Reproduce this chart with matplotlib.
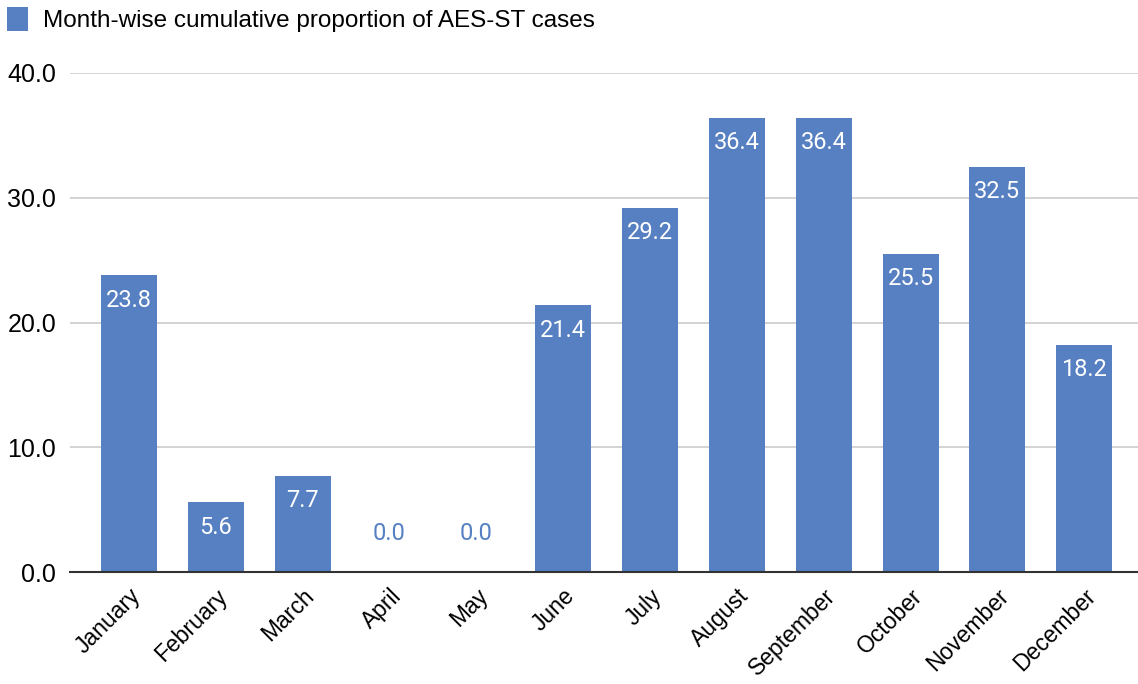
import matplotlib.pyplot as plt
import numpy as np

months = ["January", "February", "March", "April", "May", "June", "July",
          "August", "September", "October", "November", "December"]
values = [23.8, 5.6, 7.7, 0.0, 0.0, 21.4, 29.2, 36.4, 36.4, 25.5, 32.5, 18.2]
yticks = [0, 10, 20, 30, 40]
legend_label = "Month-wise cumulative proportion of AES-ST cases"

barcol = "#5680c2"
plt.rcParams["font.family"] = ["Liberation Sans", "DejaVu Sans"]

fig = plt.figure(figsize=(11.38, 6.84), dpi=100)
ax = fig.add_axes([0.0615, 0.1637, 0.9385, 0.7296])

x = np.arange(len(months))
bars = ax.bar(x, values, width=0.645, color=barcol, zorder=3)

# etiketler
for xi, v in zip(x, values):
    if v > 2:
        ax.annotate(f"{v:.1f}", (xi, v), xytext=(0, -18), textcoords="offset points",
                    ha="center", va="center", color="white", fontsize=17,
                    family=["Roboto", "DejaVu Sans"])
    else:
        ax.annotate(f"{v:.1f}", (xi, v), xytext=(0, 28), textcoords="offset points",
                    ha="center", va="center", color=barcol, fontsize=17,
                    family=["Roboto", "DejaVu Sans"])

ax.set_xlim(-0.68, 11.62)
ax.set_ylim(0, 40)
ax.set_yticks(yticks)
ax.set_yticklabels([f"{t:.1f}" for t in yticks], fontsize=18)
ax.set_xticks(x)
ax.set_xticklabels(months, rotation=45, ha="right", rotation_mode="anchor", fontsize=16.5)
ax.tick_params(axis="both", length=0)
ax.tick_params(axis="y", pad=10)
ax.tick_params(axis="x", pad=9)

ax.grid(axis="y", color="#cccccc", linewidth=1.2, zorder=0)
for s in ["top", "right", "left"]:
    ax.spines[s].set_visible(False)
ax.spines["bottom"].set_color("#333333")
ax.spines["bottom"].set_linewidth(1.5)
ax.spines["bottom"].set_zorder(4)

leg = fig.legend([bars], [legend_label], loc="upper left", bbox_to_anchor=(0.0, 1.0),
                 frameon=False, fontsize=17.5, handlelength=0.87, handleheight=1.1,
                 handletextpad=0.58, borderpad=0.1, borderaxespad=0.2)

plt.savefig("out.png", dpi=100)
